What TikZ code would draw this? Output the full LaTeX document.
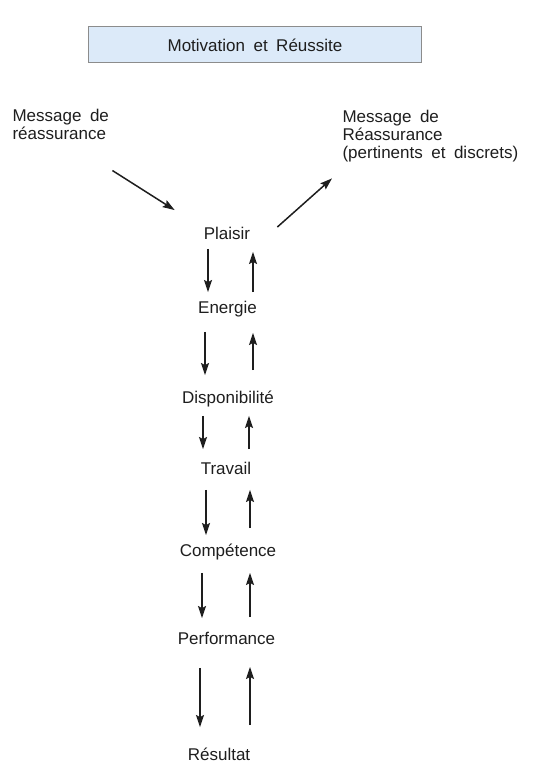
\documentclass[tikz,border=0pt]{standalone}
\usepackage{fontspec}
\setmainfont[WordSpace=1.8]{Liberation Sans}
\usetikzlibrary{arrows.meta}
\definecolor{boxblue}{RGB}{220,234,249}
\definecolor{boxgray}{RGB}{140,140,140}
\definecolor{ink}{RGB}{30,30,30}
\tikzset{>=Stealth,every node/.style={font=\fontsize{17}{18}\selectfont,text=ink},
titlebox/.style={draw=boxgray,fill=boxblue,line width=1pt,minimum width=333,minimum height=36},
etape/.style={text height=12pt,text depth=3.5pt,inner sep=0pt},
note/.style={anchor=north west,align=left},
flow/.style={ink,line width=1.5pt,-{Stealth[length=12pt,width=8pt,inset=2pt]}}}

\begin{document}
\begin{tikzpicture}[x=1pt,y=-1pt]
\useasboundingbox (0,0) rectangle (534,783);
\node[titlebox] (titre) at (255,45) {Motivation et Réussite};
\node[note] (msgg) at (9,106) {Message de\\réassurance};
\node[note] (msgd) at (339,107) {Message de\\Réassurance\\(pertinents et discrets)};
% la chaine
\node[etape] (plaisir) at (227,235) {Plaisir};
\node[etape] (energie) at (227.5,309) {Energie};
\node[etape] (dispo) at (228,399) {Disponibilité};
\node[etape] (travail) at (226,470) {Travail};
\node[etape] (comp) at (228,552) {Compétence};
\node[etape] (perf) at (226.5,640) {Performance};
\node[etape] (res) at (219,756) {Résultat};
\draw[flow] ([xshift=0pt,yshift=-27pt]msgg.south east)--([xshift=-29pt,yshift=17pt]plaisir.north west);
\draw[flow] ([xshift=27pt]plaisir.north east)--([xshift=-7pt,yshift=-12.5pt]msgd.south west);
% descente
\draw[flow] ([xshift=-19pt,yshift=-6pt]plaisir.south)--([xshift=-19.5pt,yshift=9pt]energie.north);
\draw[flow] ([xshift=-22.5pt,yshift=-15pt]energie.south)--([xshift=-23pt,yshift=16pt]dispo.north);
\draw[flow] ([xshift=-25pt,yshift=-9pt]dispo.south)--([xshift=-23pt,yshift=13pt]travail.north);
\draw[flow] ([xshift=-20pt,yshift=-12pt]travail.south)--([xshift=-22pt,yshift=9pt]comp.north);
\draw[flow] ([xshift=-26pt,yshift=-13pt]comp.south)--([xshift=-24.5pt,yshift=14pt]perf.north);
\draw[flow] ([xshift=-26.5pt,yshift=-20pt]perf.south)--([xshift=-19pt,yshift=21pt]res.north);
% remontee
\draw[flow] ([xshift=25.5pt,yshift=9pt]energie.north)--([xshift=26pt,yshift=-9pt]plaisir.south);
\draw[flow] ([xshift=25pt,yshift=21pt]dispo.north)--([xshift=25.5pt,yshift=-16pt]energie.south);
\draw[flow] ([xshift=23pt,yshift=13pt]travail.north)--([xshift=21pt,yshift=-9pt]dispo.south);
\draw[flow] ([xshift=22pt,yshift=16pt]comp.north)--([xshift=24pt,yshift=-12pt]travail.south);
\draw[flow] ([xshift=23.5pt,yshift=15pt]perf.north)--([xshift=22pt,yshift=-13pt]comp.south);
\draw[flow] ([xshift=31pt,yshift=23pt]res.north)--([xshift=23.5pt,yshift=-19pt]perf.south);
\end{tikzpicture}
\end{document}
